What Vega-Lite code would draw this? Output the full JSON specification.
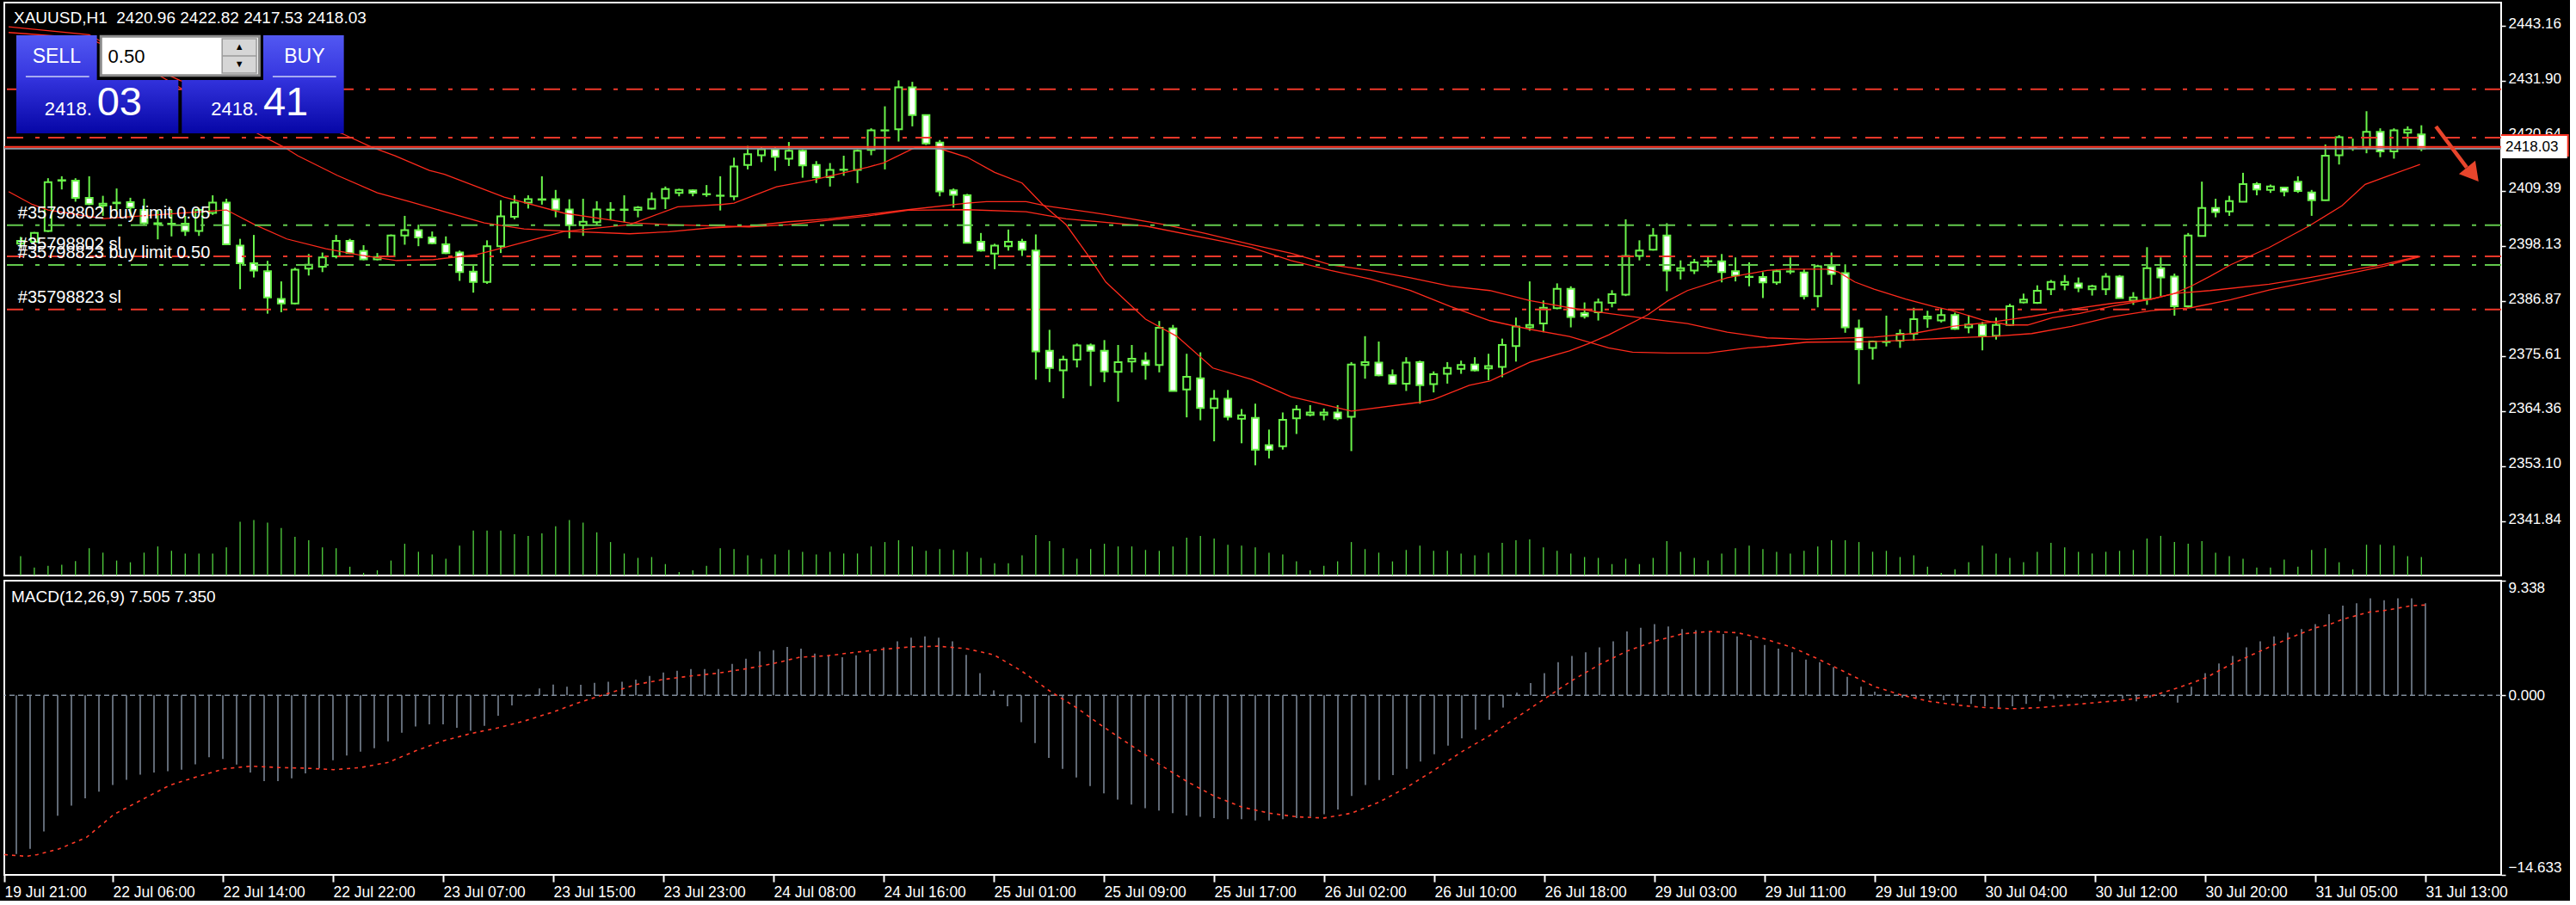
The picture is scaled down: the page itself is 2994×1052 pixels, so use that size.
{
"$schema": "https://vega.github.io/schema/vega-lite/v6.json",
"background": "#000000",
"padding": {"left": 0, "top": 2, "right": 0, "bottom": 0},
"bounds": "flush",
"config": {
  "view": {"stroke": "#ffffff", "strokeWidth": 2, "fill": "#000000"},
  "axis": {"domain": false, "grid": false, "labelColor": "#ffffff", "tickColor": "#ffffff", "labelFont": "Liberation Sans", "labelOverlap": false},
  "text": {"font": "Liberation Sans"}
},
"spacing": 6,
"datasets": {
"candles": [
{"i":1,"o":2398.6,"h":2400.0,"l":2397.8,"c":2399.2,"v":2250,"m":-12.94},
{"i":2,"o":2399.0,"h":2401.0,"l":2398.9,"c":2400.8,"v":920,"m":-12.51},
{"i":3,"o":2401.2,"h":2412.0,"l":2401.0,"c":2411.2,"v":1130,"m":-11.1},
{"i":4,"o":2411.6,"h":2412.4,"l":2409.7,"c":2411.5,"v":1260,"m":-9.81},
{"i":5,"o":2411.5,"h":2412.0,"l":2407.2,"c":2408.0,"v":1670,"m":-8.99},
{"i":6,"o":2408.0,"h":2412.4,"l":2406.5,"c":2406.7,"v":3170,"m":-8.4},
{"i":7,"o":2406.4,"h":2408.4,"l":2404.3,"c":2406.8,"v":2660,"m":-7.86},
{"i":8,"o":2407.0,"h":2409.9,"l":2405.5,"c":2406.9,"v":1740,"m":-7.3},
{"i":9,"o":2407.1,"h":2408.0,"l":2404.0,"c":2406.0,"v":1540,"m":-6.88},
{"i":10,"o":2405.5,"h":2407.8,"l":2402.5,"c":2402.8,"v":2660,"m":-6.46},
{"i":11,"o":2402.8,"h":2405.5,"l":2399.5,"c":2402.6,"v":3380,"m":-6.29},
{"i":12,"o":2402.7,"h":2405.5,"l":2400.1,"c":2402.6,"v":2870,"m":-6.18},
{"i":13,"o":2402.7,"h":2404.3,"l":2400.2,"c":2401.2,"v":2560,"m":-6.06},
{"i":14,"o":2401.2,"h":2405.8,"l":2400.2,"c":2405.5,"v":2560,"m":-5.63},
{"i":15,"o":2404.9,"h":2408.5,"l":2404.5,"c":2407.0,"v":2560,"m":-5.05},
{"i":16,"o":2407.0,"h":2407.8,"l":2398.4,"c":2398.5,"v":3280,"m":-5.19},
{"i":17,"o":2398.2,"h":2399.6,"l":2389.3,"c":2394.6,"v":6250,"m":-5.65},
{"i":18,"o":2394.6,"h":2400.4,"l":2391.7,"c":2393.1,"v":6450,"m":-6.29},
{"i":19,"o":2393.0,"h":2395.1,"l":2384.3,"c":2387.6,"v":6140,"m":-7.0},
{"i":20,"o":2387.3,"h":2390.9,"l":2384.6,"c":2386.4,"v":5530,"m":-7.0},
{"i":21,"o":2386.4,"h":2393.7,"l":2386.2,"c":2393.3,"v":4510,"m":-6.76},
{"i":22,"o":2393.5,"h":2396.5,"l":2392.1,"c":2394.3,"v":4100,"m":-6.36},
{"i":23,"o":2393.9,"h":2396.8,"l":2392.8,"c":2395.8,"v":3280,"m":-5.94},
{"i":24,"o":2396.0,"h":2400.4,"l":2395.6,"c":2399.2,"v":3170,"m":-5.3},
{"i":25,"o":2399.2,"h":2399.6,"l":2396.5,"c":2396.7,"v":1020,"m":-4.91},
{"i":26,"o":2397.1,"h":2398.3,"l":2395.2,"c":2395.4,"v":310,"m":-4.6},
{"i":27,"o":2395.4,"h":2396.7,"l":2395.2,"c":2395.9,"v":610,"m":-4.32},
{"i":28,"o":2396.0,"h":2400.5,"l":2395.9,"c":2400.3,"v":1740,"m":-3.75},
{"i":29,"o":2400.3,"h":2404.3,"l":2398.4,"c":2401.4,"v":3690,"m":-3.05},
{"i":30,"o":2401.4,"h":2402.5,"l":2398.1,"c":2399.9,"v":2760,"m":-2.54},
{"i":31,"o":2399.9,"h":2401.1,"l":2398.5,"c":2398.7,"v":2460,"m":-2.37},
{"i":32,"o":2398.5,"h":2400.1,"l":2396.5,"c":2396.7,"v":1950,"m":-2.37},
{"i":33,"o":2396.8,"h":2397.2,"l":2391.0,"c":2392.8,"v":3480,"m":-2.65},
{"i":34,"o":2392.9,"h":2394.3,"l":2388.6,"c":2390.8,"v":5220,"m":-2.89},
{"i":35,"o":2390.8,"h":2399.3,"l":2390.4,"c":2398.1,"v":5220,"m":-2.49},
{"i":36,"o":2398.1,"h":2407.5,"l":2396.7,"c":2404.2,"v":5220,"m":-1.67},
{"i":37,"o":2404.1,"h":2408.5,"l":2403.6,"c":2407.0,"v":4810,"m":-0.82},
{"i":38,"o":2407.0,"h":2408.5,"l":2405.8,"c":2407.7,"v":4610,"m":-0.1},
{"i":39,"o":2407.7,"h":2412.4,"l":2406.6,"c":2407.6,"v":4910,"m":0.56},
{"i":40,"o":2407.7,"h":2409.6,"l":2404.0,"c":2405.6,"v":5730,"m":0.87},
{"i":41,"o":2405.6,"h":2407.7,"l":2399.7,"c":2402.4,"v":6450,"m":0.7},
{"i":42,"o":2402.4,"h":2407.8,"l":2400.2,"c":2403.1,"v":6140,"m":0.85},
{"i":43,"o":2403.0,"h":2407.3,"l":2402.5,"c":2405.6,"v":5020,"m":1.01},
{"i":44,"o":2405.6,"h":2407.1,"l":2403.4,"c":2405.5,"v":3890,"m":1.1},
{"i":45,"o":2405.6,"h":2408.5,"l":2403.0,"c":2405.5,"v":2560,"m":1.1},
{"i":46,"o":2405.5,"h":2406.3,"l":2404.0,"c":2406.0,"v":2050,"m":1.27},
{"i":47,"o":2405.8,"h":2409.1,"l":2405.6,"c":2407.7,"v":2150,"m":1.57},
{"i":48,"o":2407.9,"h":2410.3,"l":2405.7,"c":2409.8,"v":1330,"m":1.85},
{"i":49,"o":2409.0,"h":2409.85,"l":2408.3,"c":2409.6,"v":410,"m":2.0},
{"i":50,"o":2409.5,"h":2409.7,"l":2408.3,"c":2409.0,"v":610,"m":2.13},
{"i":51,"o":2408.75,"h":2410.6,"l":2408.2,"c":2408.7,"v":1130,"m":2.13},
{"i":52,"o":2408.45,"h":2412.4,"l":2405.4,"c":2408.4,"v":3170,"m":2.13},
{"i":53,"o":2408.3,"h":2416.2,"l":2407.5,"c":2414.4,"v":3070,"m":2.56},
{"i":54,"o":2414.7,"h":2418.6,"l":2413.8,"c":2416.9,"v":2350,"m":2.98},
{"i":55,"o":2416.7,"h":2418.4,"l":2415.3,"c":2417.9,"v":1950,"m":3.57},
{"i":56,"o":2417.9,"h":2418.4,"l":2413.5,"c":2416.4,"v":2460,"m":3.68},
{"i":57,"o":2416.0,"h":2419.4,"l":2414.5,"c":2417.6,"v":2970,"m":3.94},
{"i":58,"o":2417.6,"h":2417.9,"l":2412.1,"c":2414.6,"v":2760,"m":3.8},
{"i":59,"o":2414.7,"h":2415.5,"l":2411.0,"c":2412.2,"v":2460,"m":3.4},
{"i":60,"o":2412.2,"h":2415.1,"l":2410.3,"c":2413.7,"v":2760,"m":3.26},
{"i":61,"o":2413.75,"h":2416.6,"l":2412.5,"c":2413.7,"v":2560,"m":3.1},
{"i":62,"o":2413.7,"h":2417.9,"l":2411.0,"c":2417.6,"v":2560,"m":3.26},
{"i":63,"o":2417.8,"h":2422.2,"l":2416.7,"c":2421.8,"v":3380,"m":3.4},
{"i":64,"o":2421.8,"h":2426.7,"l":2413.8,"c":2421.75,"v":3890,"m":3.9},
{"i":65,"o":2422.0,"h":2432.0,"l":2419.5,"c":2430.6,"v":4100,"m":4.4},
{"i":66,"o":2430.6,"h":2431.7,"l":2422.6,"c":2424.9,"v":3380,"m":4.7},
{"i":67,"o":2424.9,"h":2425.0,"l":2418.8,"c":2419.1,"v":2870,"m":4.8},
{"i":68,"o":2419.3,"h":2419.8,"l":2408.3,"c":2409.3,"v":3070,"m":4.7},
{"i":69,"o":2409.5,"h":2409.9,"l":2406.0,"c":2408.6,"v":2970,"m":4.4},
{"i":70,"o":2408.5,"h":2408.8,"l":2398.7,"c":2398.8,"v":2760,"m":3.3},
{"i":71,"o":2399.0,"h":2400.8,"l":2397.0,"c":2397.2,"v":2050,"m":1.8},
{"i":72,"o":2396.6,"h":2398.6,"l":2393.4,"c":2398.2,"v":1430,"m":0.4},
{"i":73,"o":2398.1,"h":2401.5,"l":2397.2,"c":2399.0,"v":1430,"m":-0.9},
{"i":74,"o":2399.0,"h":2399.6,"l":2396.1,"c":2397.4,"v":2350,"m":-2.2},
{"i":75,"o":2397.2,"h":2400.5,"l":2370.8,"c":2376.6,"v":4710,"m":-3.9},
{"i":76,"o":2376.7,"h":2381.0,"l":2370.3,"c":2373.2,"v":3990,"m":-5.1},
{"i":77,"o":2372.7,"h":2375.7,"l":2367.0,"c":2374.9,"v":3170,"m":-6.0},
{"i":78,"o":2374.9,"h":2378.2,"l":2373.3,"c":2377.8,"v":1950,"m":-6.7},
{"i":79,"o":2377.8,"h":2378.2,"l":2369.5,"c":2376.7,"v":3070,"m":-7.4},
{"i":80,"o":2376.7,"h":2378.9,"l":2370.3,"c":2372.5,"v":3690,"m":-8.0},
{"i":81,"o":2372.4,"h":2377.9,"l":2366.3,"c":2374.4,"v":3380,"m":-8.5},
{"i":82,"o":2374.5,"h":2377.9,"l":2372.3,"c":2375.1,"v":3380,"m":-8.9},
{"i":83,"o":2374.7,"h":2376.4,"l":2370.8,"c":2373.8,"v":2970,"m":-9.2},
{"i":84,"o":2373.8,"h":2382.8,"l":2372.3,"c":2381.4,"v":2870,"m":-9.4},
{"i":85,"o":2381.3,"h":2382.0,"l":2368.4,"c":2368.5,"v":3380,"m":-9.6},
{"i":86,"o":2368.8,"h":2376.1,"l":2363.1,"c":2371.4,"v":4400,"m":-9.8},
{"i":87,"o":2371.1,"h":2376.4,"l":2362.5,"c":2365.0,"v":4610,"m":-9.9},
{"i":88,"o":2365.0,"h":2368.7,"l":2358.2,"c":2366.9,"v":4300,"m":-10.0},
{"i":89,"o":2366.9,"h":2368.7,"l":2362.5,"c":2363.2,"v":3580,"m":-10.1},
{"i":90,"o":2362.8,"h":2364.8,"l":2357.8,"c":2363.5,"v":3480,"m":-10.1},
{"i":91,"o":2363.0,"h":2365.9,"l":2353.3,"c":2356.5,"v":3280,"m":-10.2},
{"i":92,"o":2357.4,"h":2360.6,"l":2354.7,"c":2356.5,"v":2660,"m":-10.2},
{"i":93,"o":2357.2,"h":2364.1,"l":2356.5,"c":2362.6,"v":2460,"m":-10.1},
{"i":94,"o":2362.9,"h":2365.6,"l":2359.7,"c":2364.7,"v":1640,"m":-10.0},
{"i":95,"o":2363.6,"h":2365.6,"l":2363.3,"c":2364.1,"v":610,"m":-9.9},
{"i":96,"o":2363.6,"h":2364.9,"l":2362.5,"c":2364.1,"v":1130,"m":-9.7},
{"i":97,"o":2364.1,"h":2365.6,"l":2362.5,"c":2362.9,"v":1640,"m":-9.3},
{"i":98,"o":2363.2,"h":2374.4,"l":2356.2,"c":2373.9,"v":3890,"m":-8.2},
{"i":99,"o":2373.8,"h":2379.7,"l":2371.0,"c":2374.4,"v":3070,"m":-7.3},
{"i":100,"o":2374.3,"h":2378.6,"l":2371.5,"c":2371.7,"v":2660,"m":-6.9},
{"i":101,"o":2371.7,"h":2372.9,"l":2369.9,"c":2370.0,"v":1640,"m":-6.5},
{"i":102,"o":2370.0,"h":2375.4,"l":2368.5,"c":2374.3,"v":2970,"m":-6.0},
{"i":103,"o":2374.4,"h":2374.7,"l":2365.9,"c":2369.7,"v":3480,"m":-5.4},
{"i":104,"o":2369.9,"h":2372.5,"l":2368.2,"c":2371.9,"v":2870,"m":-4.8},
{"i":105,"o":2372.0,"h":2374.4,"l":2370.0,"c":2373.2,"v":2870,"m":-4.1},
{"i":106,"o":2373.0,"h":2374.7,"l":2372.0,"c":2373.8,"v":2560,"m":-3.5},
{"i":107,"o":2373.9,"h":2375.4,"l":2372.5,"c":2372.7,"v":2350,"m":-2.8},
{"i":108,"o":2373.1,"h":2376.1,"l":2370.7,"c":2373.6,"v":2660,"m":-2.0},
{"i":109,"o":2373.4,"h":2379.2,"l":2371.3,"c":2377.9,"v":3790,"m":-1.0},
{"i":110,"o":2377.7,"h":2383.5,"l":2374.5,"c":2381.7,"v":4100,"m":0.2},
{"i":111,"o":2381.5,"h":2390.9,"l":2380.8,"c":2382.0,"v":4200,"m":1.0},
{"i":112,"o":2382.3,"h":2387.0,"l":2380.5,"c":2385.5,"v":3280,"m":1.8},
{"i":113,"o":2385.4,"h":2390.5,"l":2385.2,"c":2389.4,"v":2870,"m":2.7},
{"i":114,"o":2389.4,"h":2389.9,"l":2381.5,"c":2383.6,"v":2560,"m":3.2},
{"i":115,"o":2384.4,"h":2386.6,"l":2383.3,"c":2383.8,"v":2150,"m":3.5},
{"i":116,"o":2384.6,"h":2387.4,"l":2382.9,"c":2386.6,"v":2050,"m":3.9},
{"i":117,"o":2386.5,"h":2389.1,"l":2385.6,"c":2388.3,"v":1330,"m":4.4},
{"i":118,"o":2388.2,"h":2403.6,"l":2387.9,"c":2396.1,"v":1950,"m":5.2},
{"i":119,"o":2396.1,"h":2399.3,"l":2395.2,"c":2397.2,"v":1330,"m":5.5},
{"i":120,"o":2397.4,"h":2401.8,"l":2397.2,"c":2400.3,"v":2050,"m":5.8},
{"i":121,"o":2400.3,"h":2402.8,"l":2388.9,"c":2393.1,"v":3990,"m":5.6},
{"i":122,"o":2393.1,"h":2395.2,"l":2391.3,"c":2393.6,"v":2760,"m":5.4},
{"i":123,"o":2393.1,"h":2395.5,"l":2392.4,"c":2394.8,"v":2050,"m":5.3},
{"i":124,"o":2395.05,"h":2396.0,"l":2393.8,"c":2395.0,"v":1740,"m":5.2},
{"i":125,"o":2395.0,"h":2396.5,"l":2390.7,"c":2392.8,"v":2560,"m":5.0},
{"i":126,"o":2393.0,"h":2395.8,"l":2390.9,"c":2392.1,"v":3170,"m":4.8},
{"i":127,"o":2391.85,"h":2394.8,"l":2389.9,"c":2391.8,"v":3480,"m":4.5},
{"i":128,"o":2391.8,"h":2392.8,"l":2387.5,"c":2390.7,"v":3070,"m":4.1},
{"i":129,"o":2390.7,"h":2393.4,"l":2390.2,"c":2393.0,"v":2760,"m":3.8},
{"i":130,"o":2392.95,"h":2395.8,"l":2392.4,"c":2392.9,"v":2560,"m":3.5},
{"i":131,"o":2392.7,"h":2393.4,"l":2387.2,"c":2387.9,"v":2870,"m":2.9},
{"i":132,"o":2387.9,"h":2394.3,"l":2385.6,"c":2394.0,"v":3380,"m":2.7},
{"i":133,"o":2394.0,"h":2396.8,"l":2390.2,"c":2392.4,"v":4100,"m":2.3},
{"i":134,"o":2392.6,"h":2394.4,"l":2380.4,"c":2381.5,"v":4100,"m":1.5},
{"i":135,"o":2381.3,"h":2383.1,"l":2369.9,"c":2377.0,"v":3890,"m":0.7},
{"i":136,"o":2377.3,"h":2378.8,"l":2374.9,"c":2378.6,"v":2760,"m":0.3},
{"i":137,"o":2378.55,"h":2383.9,"l":2377.6,"c":2378.5,"v":2870,"m":0.0},
{"i":138,"o":2378.8,"h":2381.1,"l":2377.3,"c":2380.2,"v":2150,"m":-0.2},
{"i":139,"o":2380.2,"h":2385.5,"l":2378.8,"c":2383.2,"v":2350,"m":-0.2},
{"i":140,"o":2383.3,"h":2384.9,"l":2381.4,"c":2383.7,"v":1020,"m":-0.3},
{"i":141,"o":2382.9,"h":2385.4,"l":2382.5,"c":2384.0,"v":310,"m":-0.4},
{"i":142,"o":2384.0,"h":2384.5,"l":2381.0,"c":2381.2,"v":720,"m":-0.6},
{"i":143,"o":2381.5,"h":2384.0,"l":2380.3,"c":2382.1,"v":1540,"m":-0.7},
{"i":144,"o":2382.0,"h":2382.6,"l":2376.8,"c":2379.8,"v":3480,"m":-0.9},
{"i":145,"o":2379.8,"h":2383.5,"l":2379.0,"c":2382.0,"v":2560,"m":-1.0},
{"i":146,"o":2382.0,"h":2386.3,"l":2381.8,"c":2385.8,"v":2050,"m":-0.9},
{"i":147,"o":2386.6,"h":2388.4,"l":2386.4,"c":2387.2,"v":1540,"m":-0.7},
{"i":148,"o":2386.5,"h":2390.1,"l":2386.3,"c":2389.0,"v":2760,"m":-0.5},
{"i":149,"o":2389.3,"h":2391.2,"l":2388.1,"c":2390.8,"v":3790,"m":-0.3},
{"i":150,"o":2390.2,"h":2392.2,"l":2389.1,"c":2390.8,"v":3280,"m":-0.2},
{"i":151,"o":2390.5,"h":2391.7,"l":2388.7,"c":2389.6,"v":2760,"m":-0.2},
{"i":152,"o":2389.3,"h":2390.2,"l":2388.0,"c":2389.9,"v":2560,"m":-0.2},
{"i":153,"o":2389.3,"h":2392.6,"l":2388.1,"c":2391.9,"v":2760,"m":-0.1},
{"i":154,"o":2391.9,"h":2392.2,"l":2387.4,"c":2387.5,"v":2870,"m":-0.3},
{"i":155,"o":2387.0,"h":2388.7,"l":2386.1,"c":2387.6,"v":2970,"m":-0.5},
{"i":156,"o":2387.3,"h":2397.9,"l":2386.1,"c":2393.6,"v":4300,"m":-0.2},
{"i":157,"o":2393.6,"h":2395.8,"l":2387.9,"c":2391.7,"v":4610,"m":-0.1},
{"i":158,"o":2391.9,"h":2392.5,"l":2383.9,"c":2385.8,"v":3890,"m":-0.6},
{"i":159,"o":2385.8,"h":2400.8,"l":2385.5,"c":2400.3,"v":3690,"m":0.7},
{"i":160,"o":2400.2,"h":2411.3,"l":2400.1,"c":2405.9,"v":3990,"m":1.8},
{"i":161,"o":2405.9,"h":2407.8,"l":2404.0,"c":2405.1,"v":2660,"m":2.6},
{"i":162,"o":2405.2,"h":2408.4,"l":2404.3,"c":2407.3,"v":2250,"m":3.2},
{"i":163,"o":2407.2,"h":2413.1,"l":2407.1,"c":2410.8,"v":1950,"m":3.9},
{"i":164,"o":2410.8,"h":2411.2,"l":2408.5,"c":2409.7,"v":920,"m":4.4},
{"i":165,"o":2409.6,"h":2410.7,"l":2409.0,"c":2410.3,"v":920,"m":4.8},
{"i":166,"o":2410.1,"h":2410.2,"l":2408.3,"c":2409.3,"v":1840,"m":5.1},
{"i":167,"o":2411.3,"h":2412.4,"l":2409.0,"c":2409.4,"v":1020,"m":5.4},
{"i":168,"o":2409.1,"h":2409.6,"l":2404.3,"c":2407.5,"v":2970,"m":5.8},
{"i":169,"o":2407.5,"h":2418.9,"l":2407.4,"c":2416.6,"v":3170,"m":6.6},
{"i":170,"o":2416.7,"h":2420.8,"l":2414.8,"c":2420.4,"v":1540,"m":7.3},
{"i":171,"o":2418.25,"h":2420.1,"l":2417.6,"c":2418.2,"v":720,"m":7.5},
{"i":172,"o":2418.2,"h":2425.7,"l":2417.1,"c":2421.5,"v":3580,"m":7.9},
{"i":173,"o":2421.5,"h":2422.2,"l":2416.3,"c":2417.5,"v":3580,"m":7.75},
{"i":174,"o":2417.5,"h":2422.2,"l":2416.0,"c":2421.8,"v":3480,"m":7.9},
{"i":175,"o":2421.3,"h":2422.6,"l":2418.4,"c":2421.9,"v":2250,"m":7.9},
{"i":176,"o":2420.96,"h":2422.82,"l":2417.53,"c":2418.03,"v":2150,"m":7.505}
],
"ma": [
{"s":"f","i":0.125,"p":2409.26},{"s":"f","i":1.86,"p":2406.62},{"s":"f","i":3.0,"p":2405.51},{"s":"f","i":7.06,"p":2403.75},{"s":"f","i":9.66,"p":2404.28},{"s":"f","i":16.0,"p":2405.51},{"s":"f","i":18.06,"p":2402.52},{"s":"f","i":20.4,"p":2399.58},{"s":"f","i":23.25,"p":2397.59},{"s":"f","i":25.6,"p":2396.36},{"s":"f","i":28.4,"p":2395.18},{"s":"f","i":31.1,"p":2395.36},{"s":"f","i":34.2,"p":2396.36},{"s":"f","i":36.2,"p":2397.82},{"s":"f","i":40.6,"p":2401.11},{"s":"f","i":45.4,"p":2402.52},{"s":"f","i":48.9,"p":2406.16},{"s":"f","i":52.1,"p":2406.62},{"s":"f","i":53.0,"p":2406.92},{"s":"f","i":56.1,"p":2410.26},{"s":"f","i":58.7,"p":2411.62},{"s":"f","i":62.75,"p":2414.25},{"s":"f","i":63.9,"p":2415.13},{"s":"f","i":66.25,"p":2418.35},{"s":"f","i":68.0,"p":2418.05},{"s":"f","i":70.0,"p":2416.29},{"s":"f","i":72.0,"p":2413.2},{"s":"f","i":74.0,"p":2411.02},{"s":"f","i":75.5,"p":2406.62},{"s":"f","i":77.2,"p":2402.52},{"s":"f","i":78.7,"p":2396.66},{"s":"f","i":80.1,"p":2390.78},{"s":"f","i":83.0,"p":2383.17},{"s":"f","i":85.3,"p":2379.65},{"s":"f","i":87.9,"p":2373.19},{"s":"f","i":90.75,"p":2370.85},{"s":"f","i":93.6,"p":2367.33},{"s":"f","i":98.0,"p":2364.39},{"s":"f","i":102.9,"p":2366.16},{"s":"f","i":104.0,"p":2366.75},{"s":"f","i":106.6,"p":2369.67},{"s":"f","i":108.1,"p":2370.55},{"s":"f","i":111.0,"p":2374.37},{"s":"f","i":113.9,"p":2376.71},{"s":"f","i":115.3,"p":2378.19},{"s":"f","i":116.75,"p":2379.95},{"s":"f","i":119.6,"p":2384.05},{"s":"f","i":121.1,"p":2386.98},{"s":"f","i":122.5,"p":2389.03},{"s":"f","i":125.4,"p":2391.66},{"s":"f","i":128.3,"p":2393.14},{"s":"f","i":129.75,"p":2393.42},{"s":"f","i":132.6,"p":2393.42},{"s":"f","i":133.5,"p":2392.84},{"s":"f","i":134.7,"p":2390.78},{"s":"f","i":136.1,"p":2389.32},{"s":"f","i":138.4,"p":2387.27},{"s":"f","i":140.4,"p":2385.81},{"s":"f","i":141.8,"p":2384.93},{"s":"f","i":144.2,"p":2382.87},{"s":"f","i":145.9,"p":2381.99},{"s":"f","i":147.3,"p":2381.99},{"s":"f","i":149.1,"p":2383.47},{"s":"f","i":151.1,"p":2384.35},{"s":"f","i":153.4,"p":2385.81},{"s":"f","i":156.3,"p":2387.27},{"s":"f","i":158.0,"p":2388.44},{"s":"f","i":159.2,"p":2389.91},{"s":"f","i":160.6,"p":2391.96},{"s":"f","i":162.1,"p":2394.3},{"s":"f","i":164.9,"p":2397.82},{"s":"f","i":167.8,"p":2402.22},{"s":"f","i":170.2,"p":2406.34},{"s":"f","i":171.9,"p":2410.74},{"s":"f","i":173.6,"p":2412.5},{"s":"f","i":175.9,"p":2414.83},
{"s":"a","i":0.125,"p":2441.8},{"s":"a","i":6.0,"p":2440.6},{"s":"a","i":12.6,"p":2432.0},{"s":"a","i":24.4,"p":2421.17},{"s":"a","i":26.6,"p":2418.35},{"s":"a","i":28.3,"p":2416.59},{"s":"a","i":30.8,"p":2413.6},{"s":"a","i":31.9,"p":2412.78},{"s":"a","i":36.25,"p":2408.15},{"s":"a","i":40.6,"p":2404.86},{"s":"a","i":45.4,"p":2402.87},{"s":"a","i":48.3,"p":2402.52},{"s":"a","i":54.1,"p":2402.04},{"s":"a","i":57.0,"p":2402.52},{"s":"a","i":62.75,"p":2404.28},{"s":"a","i":65.7,"p":2405.46},{"s":"a","i":70.0,"p":2405.56},{"s":"a","i":74.3,"p":2405.16},{"s":"a","i":77.2,"p":2403.7},{"s":"a","i":83.0,"p":2402.22},{"s":"a","i":88.8,"p":2399.0},{"s":"a","i":90.75,"p":2397.82},{"s":"a","i":93.6,"p":2395.18},{"s":"a","i":96.5,"p":2393.14},{"s":"a","i":99.4,"p":2391.38},{"s":"a","i":102.3,"p":2389.03},{"s":"a","i":105.2,"p":2385.81},{"s":"a","i":108.1,"p":2382.87},{"s":"a","i":111.0,"p":2381.11},{"s":"a","i":113.9,"p":2379.65},{"s":"a","i":116.75,"p":2377.31},{"s":"a","i":118.5,"p":2376.43},{"s":"a","i":121.1,"p":2376.25},{"s":"a","i":124.0,"p":2376.25},{"s":"a","i":126.9,"p":2377.31},{"s":"a","i":128.3,"p":2377.59},{"s":"a","i":131.2,"p":2378.47},{"s":"a","i":136.1,"p":2378.59},{"s":"a","i":138.9,"p":2378.94},{"s":"a","i":141.8,"p":2379.35},{"s":"a","i":144.7,"p":2379.65},{"s":"a","i":147.6,"p":2380.23},{"s":"a","i":150.5,"p":2381.71},{"s":"a","i":153.4,"p":2383.64},{"s":"a","i":156.3,"p":2384.93},{"s":"a","i":159.2,"p":2385.51},{"s":"a","i":162.1,"p":2387.16},{"s":"a","i":164.9,"p":2389.15},{"s":"a","i":167.8,"p":2390.78},{"s":"a","i":170.75,"p":2392.54},{"s":"a","i":173.3,"p":2394.02},{"s":"a","i":175.9,"p":2395.96},
{"s":"b","i":0.125,"p":2442.98},{"s":"b","i":6.0,"p":2441.35},{"s":"b","i":12.0,"p":2431.55},{"s":"b","i":18.25,"p":2421.17},{"s":"b","i":20.2,"p":2418.35},{"s":"b","i":21.2,"p":2416.59},{"s":"b","i":24.1,"p":2412.55},{"s":"b","i":27.0,"p":2409.03},{"s":"b","i":29.3,"p":2407.27},{"s":"b","i":31.9,"p":2405.16},{"s":"b","i":34.8,"p":2402.87},{"s":"b","i":37.7,"p":2401.64},{"s":"b","i":41.2,"p":2401.11},{"s":"b","i":45.4,"p":2400.64},{"s":"b","i":48.3,"p":2401.06},{"s":"b","i":51.2,"p":2401.82},{"s":"b","i":54.1,"p":2402.22},{"s":"b","i":57.0,"p":2403.1},{"s":"b","i":59.9,"p":2403.7},{"s":"b","i":62.75,"p":2404.58},{"s":"b","i":65.7,"p":2405.56},{"s":"b","i":70.0,"p":2406.92},{"s":"b","i":71.4,"p":2407.22},{"s":"b","i":74.3,"p":2407.22},{"s":"b","i":75.75,"p":2406.34},{"s":"b","i":80.1,"p":2404.58},{"s":"b","i":84.4,"p":2402.52},{"s":"b","i":87.3,"p":2400.76},{"s":"b","i":90.75,"p":2398.42},{"s":"b","i":93.6,"p":2396.66},{"s":"b","i":96.5,"p":2394.3},{"s":"b","i":99.4,"p":2393.14},{"s":"b","i":102.3,"p":2391.66},{"s":"b","i":105.2,"p":2389.91},{"s":"b","i":108.1,"p":2389.03},{"s":"b","i":111.0,"p":2386.98},{"s":"b","i":113.9,"p":2385.51},{"s":"b","i":116.75,"p":2384.35},{"s":"b","i":119.6,"p":2383.29},{"s":"b","i":122.5,"p":2382.29},{"s":"b","i":125.4,"p":2380.53},{"s":"b","i":128.3,"p":2379.35},{"s":"b","i":131.2,"p":2379.07},{"s":"b","i":136.1,"p":2379.52},{"s":"b","i":138.9,"p":2380.23},{"s":"b","i":141.8,"p":2381.71},{"s":"b","i":144.7,"p":2382.59},{"s":"b","i":147.6,"p":2383.75},{"s":"b","i":150.5,"p":2385.23},{"s":"b","i":153.4,"p":2386.39},{"s":"b","i":156.3,"p":2387.27},{"s":"b","i":158.0,"p":2388.44},{"s":"b","i":160.6,"p":2389.03},{"s":"b","i":164.9,"p":2390.33},{"s":"b","i":167.8,"p":2391.66},{"s":"b","i":170.75,"p":2393.14},{"s":"b","i":173.1,"p":2394.3},{"s":"b","i":175.9,"p":2396.06}
],
"sig": [
{"i":0.125,"s":-12.98},{"i":1.72,"s":-13.12},{"i":2.52,"s":-12.98},{"i":4.11,"s":-12.51},{"i":6.1,"s":-11.57},{"i":8.1,"s":-9.7},{"i":10.1,"s":-8.52},{"i":12.1,"s":-7.35},{"i":14.1,"s":-6.64},{"i":16.1,"s":-5.99},{"i":18.06,"s":-5.77},{"i":20.1,"s":-5.89},{"i":22.05,"s":-5.94},{"i":24.04,"s":-6.06},{"i":26,"s":-5.89},{"i":28,"s":-5.47},{"i":30,"s":-4.53},{"i":32,"s":-3.71},{"i":34,"s":-3.12},{"i":36,"s":-2.65},{"i":38,"s":-2.06},{"i":40,"s":-1.36},{"i":42,"s":-0.54},{"i":44,"s":0.16},{"i":46,"s":0.87},{"i":48,"s":1.29},{"i":50,"s":1.57},{"i":52,"s":1.81},{"i":54,"s":2.16},{"i":55.9,"s":2.56},{"i":57.9,"s":3.1},{"i":59.9,"s":3.22},{"i":61.9,"s":3.5},{"i":64,"s":3.75},{"i":66,"s":3.95},{"i":68,"s":4.0},{"i":70,"s":3.8},{"i":72,"s":3.3},{"i":74,"s":2.0},{"i":76,"s":0.4},{"i":78,"s":-1.0},{"i":80,"s":-2.6},{"i":82,"s":-4.1},{"i":84,"s":-5.6},{"i":86,"s":-7.0},{"i":88,"s":-8.2},{"i":90,"s":-9.1},{"i":92,"s":-9.6},{"i":94,"s":-9.9},{"i":96,"s":-10.0},{"i":98,"s":-9.6},{"i":100,"s":-8.7},{"i":102,"s":-7.5},{"i":104,"s":-6.1},{"i":106,"s":-4.6},{"i":108,"s":-3.3},{"i":110,"s":-1.8},{"i":112,"s":-0.3},{"i":114,"s":1.2},{"i":116,"s":2.5},{"i":118,"s":3.6},{"i":120,"s":4.4},{"i":122,"s":5.0},{"i":124,"s":5.2},{"i":126,"s":5.1},{"i":128,"s":4.6},{"i":130,"s":3.9},{"i":132,"s":2.9},{"i":134,"s":1.8},{"i":136,"s":0.7},{"i":138,"s":0.0},{"i":140,"s":-0.5},{"i":142,"s":-0.8},{"i":144,"s":-1.0},{"i":146,"s":-1.1},{"i":148,"s":-1.0},{"i":150,"s":-0.8},{"i":152,"s":-0.6},{"i":154,"s":-0.4},{"i":156,"s":-0.1},{"i":158,"s":0.6},{"i":160,"s":1.4},{"i":162,"s":2.6},{"i":164,"s":3.6},{"i":166,"s":4.6},{"i":168,"s":5.5},{"i":169,"s":5.75},{"i":170,"s":6.2},{"i":171,"s":6.5},{"i":172,"s":6.8},{"i":173,"s":6.9},{"i":174,"s":7.1},{"i":175,"s":7.3},{"i":176,"s":7.35}
],
"levels": [
{"p":2430.2,"k":"tp"},
{"p":2420.3,"k":"tp"},
{"p":2402.4,"k":"limit","t":"#35798802 buy limit 0.05"},
{"p":2396.0,"k":"sl","t":"#35798802 sl"},
{"p":2394.25,"k":"limit","t":"#35798823 buy limit 0.50"},
{"p":2385.15,"k":"sl","t":"#35798823 sl"}
]
},
"vconcat": [
{
 "width": 2902, "height": 666,
 "layer": [
  {
   "data": {"name": "candles"},
   "mark": {"type": "rule", "color": "#52d13f", "strokeWidth": 1.3},
   "encoding": {
    "x": {"field": "i", "type": "quantitative", "scale": {"domain": [0.125, 181.5], "nice": false, "zero": false}, "axis": null},
    "y": {"field": "v", "type": "quantitative", "scale": {"domain": [0, 66600], "nice": false}, "axis": null},
    "y2": {"datum": 0}
   }
  },
  {
   "data": {"values": [{}]},
   "layer": [
    {
     "data": {"name": "candles"},
     "mark": {"type": "rule", "color": "#6af34a", "strokeWidth": 2},
     "encoding": {
      "x": {"field": "i", "type": "quantitative", "scale": {"domain": [0.125, 181.5], "nice": false, "zero": false}, "axis": null},
      "y": {"field": "l", "type": "quantitative", "scale": {"domain": [2330.76, 2447.91], "nice": false, "zero": false},
            "axis": {"orient": "right", "title": null, "values": [2443.16, 2431.90, 2420.64, 2409.39, 2398.13, 2386.87, 2375.61, 2364.36, 2353.10, 2341.84], "format": ".2f", "labelFontSize": 17, "tickSize": 5, "tickWidth": 1.5, "labelPadding": 3, "labelBaseline": "alphabetic", "labelOffset": 2, "labelColor": "#ffffff", "tickColor": "#ffffff", "grid": false, "domain": false}},
      "y2": {"field": "h"}
     }
    },
    {
     "data": {"name": "candles"},
     "mark": {"type": "bar", "width": 8, "stroke": "#6af34a", "strokeWidth": 2},
     "encoding": {
      "x": {"field": "i", "type": "quantitative", "scale": {"domain": [0.125, 181.5], "nice": false, "zero": false}, "axis": null},
      "y": {"field": "o", "type": "quantitative", "scale": {"domain": [2330.76, 2447.91], "nice": false, "zero": false}},
      "y2": {"field": "c"},
      "fill": {"condition": {"test": "datum.c > datum.o", "value": "#000000"}, "value": "#ffffff"}
     }
    },
    {
     "data": {"name": "ma"},
     "mark": {"type": "line", "color": "#ff2a1c", "strokeWidth": 1.3},
     "encoding": {
      "x": {"field": "i", "type": "quantitative", "scale": {"domain": [0.125, 181.5], "nice": false, "zero": false}, "axis": null},
      "y": {"field": "p", "type": "quantitative", "scale": {"domain": [2330.76, 2447.91], "nice": false, "zero": false}},
      "detail": {"field": "s"}
     }
    },
    {
     "data": {"name": "levels"},
     "mark": {"type": "rule", "strokeWidth": 2, "strokeDash": [19, 10, 5, 14]},
     "encoding": {
      "y": {"field": "p", "type": "quantitative", "scale": {"domain": [2330.76, 2447.91], "nice": false, "zero": false}},
      "color": {"condition": {"test": "datum.k === 'limit'", "value": "#62c94c"}, "value": "#f0382a"}
     }
    },
    {
     "mark": {"type": "rule", "color": "#8c96a2", "strokeWidth": 2},
     "encoding": {"y": {"datum": 2418.03, "scale": {"domain": [2330.76, 2447.91], "nice": false, "zero": false}}}
    },
    {
     "mark": {"type": "rule", "color": "#ff3322", "strokeWidth": 2},
     "encoding": {"y": {"datum": 2418.41, "scale": {"domain": [2330.76, 2447.91], "nice": false, "zero": false}}}
    },
    {
     "data": {"name": "levels"},
     "transform": [{"filter": "isValid(datum.t)"}],
     "mark": {"type": "text", "color": "#ffffff", "fontSize": 20, "align": "left", "baseline": "alphabetic", "dy": -8},
     "encoding": {
      "x": {"datum": 0.8, "scale": {"domain": [0.125, 181.5], "nice": false, "zero": false}, "axis": null},
      "y": {"field": "p", "type": "quantitative", "scale": {"domain": [2330.76, 2447.91], "nice": false, "zero": false}},
      "text": {"field": "t"}
     }
    },
    {
     "mark": {"type": "text", "color": "#ffffff", "fontSize": 19, "align": "left", "baseline": "alphabetic", "text": "XAUUSD,H1\u00a0\u00a02420.96 2422.82 2417.53 2418.03"},
     "encoding": {
      "x": {"datum": 0.5, "scale": {"domain": [0.125, 181.5], "nice": false, "zero": false}, "axis": null},
      "y": {"datum": 2443.69, "scale": {"domain": [2330.76, 2447.91], "nice": false, "zero": false}}
     }
    },
    {
     "mark": {"type": "rect", "fill": {"gradient": "linear", "x1": 0, "y1": 0, "x2": 0, "y2": 1, "stops": [{"offset": 0, "color": "#5258f2"}, {"offset": 1, "color": "#3434de"}]}},
     "encoding": {
      "x": {"datum": 0.6875, "scale": {"domain": [0.125, 181.5], "nice": false, "zero": false}, "axis": null}, "x2": {"datum": 6.5625},
      "y": {"datum": 2441.23, "scale": {"domain": [2330.76, 2447.91], "nice": false, "zero": false}}, "y2": {"datum": 2432.08}
     }
    },
    {
     "mark": {"type": "rect", "fill": {"gradient": "linear", "x1": 0, "y1": 0, "x2": 0, "y2": 1, "stops": [{"offset": 0, "color": "#5258f2"}, {"offset": 1, "color": "#3434de"}]}},
     "encoding": {
      "x": {"datum": 18.6875, "scale": {"domain": [0.125, 181.5], "nice": false, "zero": false}, "axis": null}, "x2": {"datum": 24.5625},
      "y": {"datum": 2441.23, "scale": {"domain": [2330.76, 2447.91], "nice": false, "zero": false}}, "y2": {"datum": 2432.08}
     }
    },
    {
     "mark": {"type": "rect", "fill": {"gradient": "linear", "x1": 0, "y1": 0, "x2": 0, "y2": 1, "stops": [{"offset": 0, "color": "#3232dc"}, {"offset": 1, "color": "#0606a6"}]}},
     "encoding": {
      "x": {"datum": 0.6875, "scale": {"domain": [0.125, 181.5], "nice": false, "zero": false}, "axis": null}, "x2": {"datum": 12.5},
      "y": {"datum": 2432.08, "scale": {"domain": [2330.76, 2447.91], "nice": false, "zero": false}}, "y2": {"datum": 2421.17}
     }
    },
    {
     "mark": {"type": "rect", "fill": {"gradient": "linear", "x1": 0, "y1": 0, "x2": 0, "y2": 1, "stops": [{"offset": 0, "color": "#3232dc"}, {"offset": 1, "color": "#0606a6"}]}},
     "encoding": {
      "x": {"datum": 12.75, "scale": {"domain": [0.125, 181.5], "nice": false, "zero": false}, "axis": null}, "x2": {"datum": 24.5625},
      "y": {"datum": 2432.08, "scale": {"domain": [2330.76, 2447.91], "nice": false, "zero": false}}, "y2": {"datum": 2421.17}
     }
    },
    {
     "mark": {"type": "rect", "fill": "#ffffff", "stroke": "#8a8a8a", "strokeWidth": 3},
     "encoding": {
      "x": {"datum": 6.85, "scale": {"domain": [0.125, 181.5], "nice": false, "zero": false}, "axis": null}, "x2": {"datum": 18.4},
      "y": {"datum": 2441.0, "scale": {"domain": [2330.76, 2447.91], "nice": false, "zero": false}}, "y2": {"datum": 2433.0}
     }
    },
    {
     "mark": {"type": "rect", "fill": "#d6d6d6", "stroke": "#9a9a9a", "strokeWidth": 1.5},
     "encoding": {
      "x": {"datum": 15.69, "scale": {"domain": [0.125, 181.5], "nice": false, "zero": false}, "axis": null}, "x2": {"datum": 18.19},
      "y": {"datum": 2440.52, "scale": {"domain": [2330.76, 2447.91], "nice": false, "zero": false}}, "y2": {"datum": 2433.49}
     }
    },
    {
     "mark": {"type": "rule", "color": "#9a9a9a", "strokeWidth": 1.5},
     "encoding": {
      "x": {"datum": 15.69, "scale": {"domain": [0.125, 181.5], "nice": false, "zero": false}, "axis": null}, "x2": {"datum": 18.19},
      "y": {"datum": 2437.0, "scale": {"domain": [2330.76, 2447.91], "nice": false, "zero": false}}
     }
    },
    {
     "mark": {"type": "text", "color": "#000000", "fontSize": 11, "align": "center", "baseline": "middle", "text": "▲"},
     "encoding": {
      "x": {"datum": 16.94, "scale": {"domain": [0.125, 181.5], "nice": false, "zero": false}, "axis": null},
      "y": {"datum": 2438.7, "scale": {"domain": [2330.76, 2447.91], "nice": false, "zero": false}}
     }
    },
    {
     "mark": {"type": "text", "color": "#000000", "fontSize": 11, "align": "center", "baseline": "middle", "text": "▼"},
     "encoding": {
      "x": {"datum": 16.94, "scale": {"domain": [0.125, 181.5], "nice": false, "zero": false}, "axis": null},
      "y": {"datum": 2435.3, "scale": {"domain": [2330.76, 2447.91], "nice": false, "zero": false}}
     }
    },
    {
     "mark": {"type": "rule", "color": "#a6aaf0", "strokeWidth": 2},
     "encoding": {
      "x": {"datum": 1.375, "scale": {"domain": [0.125, 181.5], "nice": false, "zero": false}, "axis": null}, "x2": {"datum": 6.0},
      "y": {"datum": 2432.78, "scale": {"domain": [2330.76, 2447.91], "nice": false, "zero": false}}
     }
    },
    {
     "mark": {"type": "rule", "color": "#a6aaf0", "strokeWidth": 2},
     "encoding": {
      "x": {"datum": 19.375, "scale": {"domain": [0.125, 181.5], "nice": false, "zero": false}, "axis": null}, "x2": {"datum": 24.0},
      "y": {"datum": 2432.78, "scale": {"domain": [2330.76, 2447.91], "nice": false, "zero": false}}
     }
    },
    {
     "mark": {"type": "text", "color": "#ffffff", "fontSize": 23, "align": "center", "baseline": "middle", "text": "SELL"},
     "encoding": {
      "x": {"datum": 3.625, "scale": {"domain": [0.125, 181.5], "nice": false, "zero": false}, "axis": null},
      "y": {"datum": 2436.83, "scale": {"domain": [2330.76, 2447.91], "nice": false, "zero": false}}
     }
    },
    {
     "mark": {"type": "text", "color": "#ffffff", "fontSize": 23, "align": "center", "baseline": "middle", "text": "BUY"},
     "encoding": {
      "x": {"datum": 21.69, "scale": {"domain": [0.125, 181.5], "nice": false, "zero": false}, "axis": null},
      "y": {"datum": 2436.83, "scale": {"domain": [2330.76, 2447.91], "nice": false, "zero": false}}
     }
    },
    {
     "mark": {"type": "text", "color": "#000000", "fontSize": 22, "align": "left", "baseline": "middle", "text": "0.50"},
     "encoding": {
      "x": {"datum": 7.375, "scale": {"domain": [0.125, 181.5], "nice": false, "zero": false}, "axis": null},
      "y": {"datum": 2436.83, "scale": {"domain": [2330.76, 2447.91], "nice": false, "zero": false}}
     }
    },
    {
     "mark": {"type": "text", "color": "#ffffff", "fontSize": 22, "align": "left", "baseline": "alphabetic", "text": "2418."},
     "encoding": {
      "x": {"datum": 2.75, "scale": {"domain": [0.125, 181.5], "nice": false, "zero": false}, "axis": null},
      "y": {"datum": 2424.87, "scale": {"domain": [2330.76, 2447.91], "nice": false, "zero": false}}
     }
    },
    {
     "mark": {"type": "text", "color": "#ffffff", "fontSize": 47, "align": "left", "baseline": "alphabetic", "text": "03"},
     "encoding": {
      "x": {"datum": 6.5625, "scale": {"domain": [0.125, 181.5], "nice": false, "zero": false}, "axis": null},
      "y": {"datum": 2424.87, "scale": {"domain": [2330.76, 2447.91], "nice": false, "zero": false}}
     }
    },
    {
     "mark": {"type": "text", "color": "#ffffff", "fontSize": 22, "align": "left", "baseline": "alphabetic", "text": "2418."},
     "encoding": {
      "x": {"datum": 14.875, "scale": {"domain": [0.125, 181.5], "nice": false, "zero": false}, "axis": null},
      "y": {"datum": 2424.87, "scale": {"domain": [2330.76, 2447.91], "nice": false, "zero": false}}
     }
    },
    {
     "mark": {"type": "text", "color": "#ffffff", "fontSize": 47, "align": "left", "baseline": "alphabetic", "text": "41"},
     "encoding": {
      "x": {"datum": 18.6875, "scale": {"domain": [0.125, 181.5], "nice": false, "zero": false}, "axis": null},
      "y": {"datum": 2424.87, "scale": {"domain": [2330.76, 2447.91], "nice": false, "zero": false}}
     }
    },
    {
     "mark": {"type": "rect", "fill": "#ff3322"},
     "encoding": {
      "x": {"datum": 181.81, "scale": {"domain": [0.125, 181.5], "nice": false, "zero": false}, "axis": null}, "x2": {"datum": 186.75},
      "y": {"datum": 2421.0, "scale": {"domain": [2330.76, 2447.91], "nice": false, "zero": false}}, "y2": {"datum": 2416.42}
     }
    },
    {
     "mark": {"type": "rect", "fill": "#ffffff"},
     "encoding": {
      "x": {"datum": 181.81, "scale": {"domain": [0.125, 181.5], "nice": false, "zero": false}, "axis": null}, "x2": {"datum": 186.625},
      "y": {"datum": 2420.65, "scale": {"domain": [2330.76, 2447.91], "nice": false, "zero": false}}, "y2": {"datum": 2416.07}
     }
    },
    {
     "mark": {"type": "text", "color": "#000000", "fontSize": 17, "align": "left", "baseline": "middle", "text": "2418.03"},
     "encoding": {
      "x": {"datum": 182.125, "scale": {"domain": [0.125, 181.5], "nice": false, "zero": false}, "axis": null},
      "y": {"datum": 2418.36, "scale": {"domain": [2330.76, 2447.91], "nice": false, "zero": false}}
     }
    },
    {
     "mark": {"type": "rule", "color": "#e8452c", "strokeWidth": 4.5},
     "encoding": {
      "x": {"datum": 177.06, "scale": {"domain": [0.125, 181.5], "nice": false, "zero": false}, "axis": null}, "x2": {"datum": 179.3},
      "y": {"datum": 2422.58, "scale": {"domain": [2330.76, 2447.91], "nice": false, "zero": false}}, "y2": {"datum": 2414.2}
     }
    },
    {
     "mark": {"type": "point", "shape": "triangle-up", "size": 600, "angle": 141, "filled": true, "color": "#e8452c", "opacity": 1},
     "encoding": {
      "x": {"datum": 179.75, "scale": {"domain": [0.125, 181.5], "nice": false, "zero": false}, "axis": null},
      "y": {"datum": 2412.78, "scale": {"domain": [2330.76, 2447.91], "nice": false, "zero": false}}
     }
    }
   ]
  }
 ],
 "resolve": {"scale": {"y": "independent"}}
},
{
 "width": 2902, "height": 342,
 "layer": [
  {
   "data": {"name": "candles"},
   "mark": {"type": "rule", "color": "#8a97a8", "strokeWidth": 1.4},
   "encoding": {
    "x": {"field": "i", "type": "quantitative", "scale": {"domain": [0.125, 181.5], "nice": false, "zero": false},
          "axis": {"orient": "bottom", "title": null, "values": [0.125, 8, 16, 24, 32, 40, 48, 56, 64, 72, 80, 88, 96, 104, 112, 120, 128, 136, 144, 152, 160, 168, 176],
                   "labelExpr": "['19 Jul 21:00','22 Jul 06:00','22 Jul 14:00','22 Jul 22:00','23 Jul 07:00','23 Jul 15:00','23 Jul 23:00','24 Jul 08:00','24 Jul 16:00','25 Jul 01:00','25 Jul 09:00','25 Jul 17:00','26 Jul 02:00','26 Jul 10:00','26 Jul 18:00','29 Jul 03:00','29 Jul 11:00','29 Jul 19:00','30 Jul 04:00','30 Jul 12:00','30 Jul 20:00','31 Jul 05:00','31 Jul 13:00'][round(datum.value/8)]",
                   "labelAlign": "left", "labelBaseline": "top", "labelFontSize": 17.5, "tickSize": 8, "tickWidth": 2, "labelPadding": 3, "labelFlush": false, "labelColor": "#ffffff", "tickColor": "#ffffff", "grid": false, "domain": false}},
    "y": {"field": "m", "type": "quantitative", "scale": {"domain": [-14.633, 9.338], "nice": false, "zero": false},
          "axis": {"orient": "right", "title": null, "values": [-14.633, 0, 9.338], "format": ".3f", "labelFontSize": 17, "tickSize": 5, "tickWidth": 1.5, "labelPadding": 3, "labelFlush": true, "labelColor": "#ffffff", "tickColor": "#ffffff", "grid": false, "domain": false}},
    "y2": {"datum": 0}
   }
  },
  {
   "data": {"values": [{}]},
   "mark": {"type": "rule", "color": "#7e8b9a", "strokeWidth": 1.5, "strokeDash": [6, 4]},
   "encoding": {"y": {"datum": 0, "scale": {"domain": [-14.633, 9.338], "nice": false, "zero": false}}}
  },
  {
   "data": {"name": "sig"},
   "mark": {"type": "line", "color": "#ff3a28", "strokeWidth": 1.6, "strokeDash": [4, 5]},
   "encoding": {
    "x": {"field": "i", "type": "quantitative", "scale": {"domain": [0.125, 181.5], "nice": false, "zero": false}},
    "y": {"field": "s", "type": "quantitative", "scale": {"domain": [-14.633, 9.338], "nice": false, "zero": false}}
   }
  },
  {
   "data": {"values": [{}]},
   "mark": {"type": "text", "color": "#ffffff", "fontSize": 19, "align": "left", "baseline": "alphabetic", "text": "MACD(12,26,9) 7.505 7.350"},
   "encoding": {
    "x": {"datum": 0.625, "scale": {"domain": [0.125, 181.5], "nice": false, "zero": false}},
    "y": {"datum": 7.58, "scale": {"domain": [-14.633, 9.338], "nice": false, "zero": false}}
   }
  }
 ]
}
]
}
